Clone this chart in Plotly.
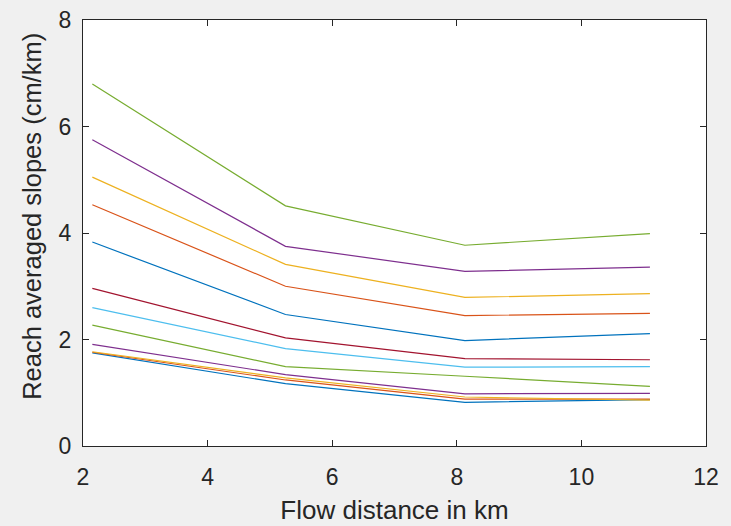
import plotly.graph_objects as go

flow_distance_km = [2.15, 5.25, 8.13, 11.1]

slopes = [
    [1.75, 1.17, 0.82, 0.87],
    [1.76, 1.24, 0.88, 0.88],
    [1.77, 1.28, 0.92, 0.86],
    [1.91, 1.34, 0.98, 0.99],
    [2.27, 1.49, 1.31, 1.12],
    [2.60, 1.83, 1.48, 1.49],
    [2.96, 2.03, 1.64, 1.62],
    [3.83, 2.47, 1.98, 2.11],
    [4.53, 3.00, 2.45, 2.49],
    [5.05, 3.41, 2.79, 2.86],
    [5.75, 3.75, 3.28, 3.36],
    [6.80, 4.51, 3.77, 3.99],
]

colors = ["#0072BD", "#D95319", "#EDB120", "#7E2F8E", "#77AC30", "#4DBEEE", "#A2142F"]

x_ticks = [2, 4, 6, 8, 10, 12]
y_ticks = [0, 2, 4, 6, 8]

FONT = "Arial, Liberation Sans, sans-serif"

fig = go.Figure()
for i, s in enumerate(slopes):
    fig.add_trace(go.Scatter(
        x=flow_distance_km, y=s, mode="lines",
        line=dict(color=colors[i % len(colors)], width=1.2),
        showlegend=False, hoverinfo="skip",
    ))

axis_common = dict(
    showgrid=False, zeroline=False, showline=True, linecolor="#262626", linewidth=1,
    mirror="ticks", ticks="inside", ticklen=6, tickcolor="#262626", tickwidth=1,
    tickfont=dict(family=FONT, size=23, color="#262626"), automargin=False,
)

fig.update_layout(
    width=731, height=526,
    paper_bgcolor="#f0f0f0", plot_bgcolor="white",
    margin=dict(l=83, r=25, t=20, b=80),
    font=dict(family=FONT, color="#262626"),
    xaxis=dict(range=[2, 12], tickvals=x_ticks, ticklabelstandoff=10,
               title=dict(text="Flow distance in km", font=dict(size=26, color="#262626"), standoff=12),
               **axis_common),
    yaxis=dict(range=[0, 8], tickvals=y_ticks, ticklabelstandoff=6,
               **axis_common),
    annotations=[dict(
        text="Reach averaged slopes (cm/km)", textangle=-90,
        xref="paper", yref="paper", x=-0.082, y=0.54,
        xanchor="center", yanchor="middle", showarrow=False,
        font=dict(family=FONT, size=25.5, color="#262626"),
    )],
)

fig.write_html("out.html")
